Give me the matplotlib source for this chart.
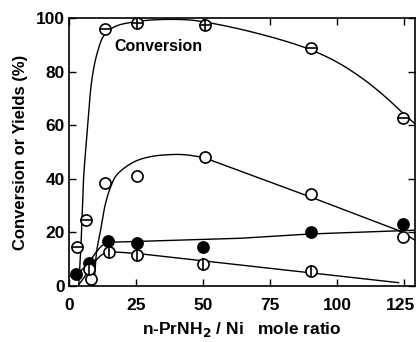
import numpy as np
import matplotlib
matplotlib.use("Agg")
import matplotlib.pyplot as plt
from matplotlib.transforms import ScaledTranslation

# ---- data ----
conv_x = [3, 6.5, 13.5, 25.5, 50.5, 90, 124.5]
conv_y = [14.5, 24.5, 96, 98.3, 97.5, 88.8, 62.8]
conv_plus = [False, False, False, True, True, False, False]

open_x = [8, 13.5, 25.5, 50.5, 90, 124.5]
open_y = [2.5, 38.5, 41.2, 48.2, 34.5, 18.2]

fill_x = [2.6, 7.3, 14.5, 25.5, 50, 90, 124.5]
fill_y = [4.6, 8.7, 16.8, 16.2, 14.6, 20.0, 23.3]

bar_x = [7.5, 15, 25.5, 50, 90]
bar_y = [6.2, 12.8, 11.5, 8.0, 5.7]

# hand-drawn guide curves (knots): smooth part + straight part
conv_cx = [3.6, 4.3, 4.8, 5.4, 6.8, 8.5, 10.5, 13, 17, 25, 35, 45, 52, 65, 80, 90, 100, 110, 118, 125, 129]
conv_cy = [0, 12, 24, 40, 58, 77, 87, 93.5, 96.8, 98.7, 99.5, 99.3, 98.3, 95.6, 91.6, 88.2, 83.5, 77, 70.5, 64, 60.5]

open_cx = [9.3, 10.3, 11.6, 13.4, 15.5, 17.8, 24, 30, 37, 43, 50]
open_cy = [0, 13, 20, 30, 37, 41.5, 46.2, 48.2, 49, 49, 48]
open_lx = [50, 90, 122, 125, 129]
open_ly = [48, 33.2, 21, 19.6, 17]

fill_cx = [0.4, 2.6, 5, 7.3, 10, 12.5, 15]
fill_cy = [3.5, 4.6, 6.2, 8.7, 12.5, 15.2, 16.3]
fill_lx = [15, 25, 64, 90, 129]
fill_ly = [16.3, 16.6, 17.8, 19.4, 20.8]

bar_cx = [3.5, 5.5, 7.5, 10, 12.5, 15, 20, 25.5]
bar_cy = [0.3, 3.0, 6.2, 9.5, 11.8, 12.6, 12.5, 12.1]
bar_lx = [25.5, 122.9]
bar_ly = [12.1, 1.2]

x_ticks = [0, 25, 50, 75, 100, 125]
y_ticks = [0, 20, 40, 60, 80, 100]

# screen-ish scaling so the centripetal parametrisation works in display-like units
SX, SY = 2.68, 2.68


def smooth(xs, ys, n=24, alpha=0.5):
    """Centripetal Catmull-Rom through the guide knots."""
    p = np.column_stack([np.asarray(xs) * SX, np.asarray(ys) * SY]).astype(float)
    p = np.vstack([2 * p[0] - p[1], p, 2 * p[-1] - p[-2]])
    out = []
    for i in range(1, len(p) - 2):
        P0, P1, P2, P3 = p[i - 1], p[i], p[i + 1], p[i + 2]
        t0 = 0.0
        t1 = t0 + max(np.linalg.norm(P1 - P0), 1e-6) ** alpha
        t2 = t1 + max(np.linalg.norm(P2 - P1), 1e-6) ** alpha
        t3 = t2 + max(np.linalg.norm(P3 - P2), 1e-6) ** alpha
        t = np.linspace(t1, t2, n, endpoint=False)[:, None]
        A1 = (t1 - t) / (t1 - t0) * P0 + (t - t0) / (t1 - t0) * P1
        A2 = (t2 - t) / (t2 - t1) * P1 + (t - t1) / (t2 - t1) * P2
        A3 = (t3 - t) / (t3 - t2) * P2 + (t - t2) / (t3 - t2) * P3
        B1 = (t2 - t) / (t2 - t0) * A1 + (t - t0) / (t2 - t0) * A2
        B2 = (t3 - t) / (t3 - t1) * A2 + (t - t1) / (t3 - t1) * A3
        C = (t2 - t) / (t2 - t1) * B1 + (t - t1) / (t2 - t1) * B2
        out.append(C)
    out.append(p[-2][None, :])
    out = np.vstack(out)
    return out[:, 0] / SX, out[:, 1] / SY


plt.rcParams['font.family'] = ['Liberation Sans', 'DejaVu Sans']
fig = plt.figure(figsize=(4.16, 3.42), dpi=100)
ax = fig.add_axes([0.166, 0.164, 0.832, 0.783])

lw = 1.0
for cx, cy in [(conv_cx, conv_cy), (open_cx, open_cy), (fill_cx, fill_cy), (bar_cx, bar_cy)]:
    sx, sy = smooth(cx, cy)
    ax.plot(sx, sy, color='black', lw=lw, zorder=2, solid_capstyle='round')
for lx, ly in [(open_lx, open_ly), (fill_lx, fill_ly), (bar_lx, bar_ly)]:
    ax.plot(lx, ly, color='black', lw=lw, zorder=2, solid_capstyle='round')

ms = 8
mew = 1.2
ax.plot(conv_x, conv_y, 'o', ms=ms, mfc='white', mec='black', mew=mew, ls='none', zorder=3)
ax.plot(conv_x, conv_y, '_', ms=ms, mec='black', mew=mew, ls='none', zorder=4)
px = [x for x, f in zip(conv_x, conv_plus) if f]
py = [y for y, f in zip(conv_y, conv_plus) if f]
ax.plot(px, py, '|', ms=ms, mec='black', mew=mew, ls='none', zorder=4)

ax.plot(open_x, open_y, 'o', ms=ms, mfc='white', mec='black', mew=mew, ls='none', zorder=3)
ax.plot(fill_x, fill_y, 'o', ms=ms, mfc='black', mec='black', mew=mew, ls='none', zorder=3)
ax.plot(bar_x, bar_y, 'o', ms=ms, mfc='white', mec='black', mew=mew, ls='none', zorder=3)
ax.plot(bar_x, bar_y, '|', ms=ms, mec='black', mew=mew, ls='none', zorder=4)

ax.set_xlim(0, 129)
ax.set_ylim(0, 100)
ax.set_xticks(x_ticks)
ax.set_yticks(y_ticks)
ax.tick_params(direction='in', top=True, right=True, length=5, width=1)
ax.tick_params(axis='x', labelsize=12.5, pad=9)
ax.tick_params(axis='y', labelsize=12.5, pad=3)
for lab in ax.get_xticklabels() + ax.get_yticklabels():
    lab.set_fontweight('bold')
# keep the last x label inside the figure, as in the reference
last = ax.get_xticklabels()[-1]
last.set_transform(last.get_transform() + ScaledTranslation(-3 / 72, 0, fig.dpi_scale_trans))
for s in ax.spines.values():
    s.set_linewidth(1.2)

ax.text(17, 89.5, 'Conversion', fontsize=11.5, fontweight='bold', ha='left', va='center')
ax.set_xlabel('n-PrNH$_\\mathbf{2}$ / Ni   mole ratio', fontsize=12.5, fontweight='bold', labelpad=5)
ax.set_ylabel('Conversion or Yields (%)', fontsize=12, fontweight='bold', labelpad=6)

fig.savefig('out.png', dpi=100)
